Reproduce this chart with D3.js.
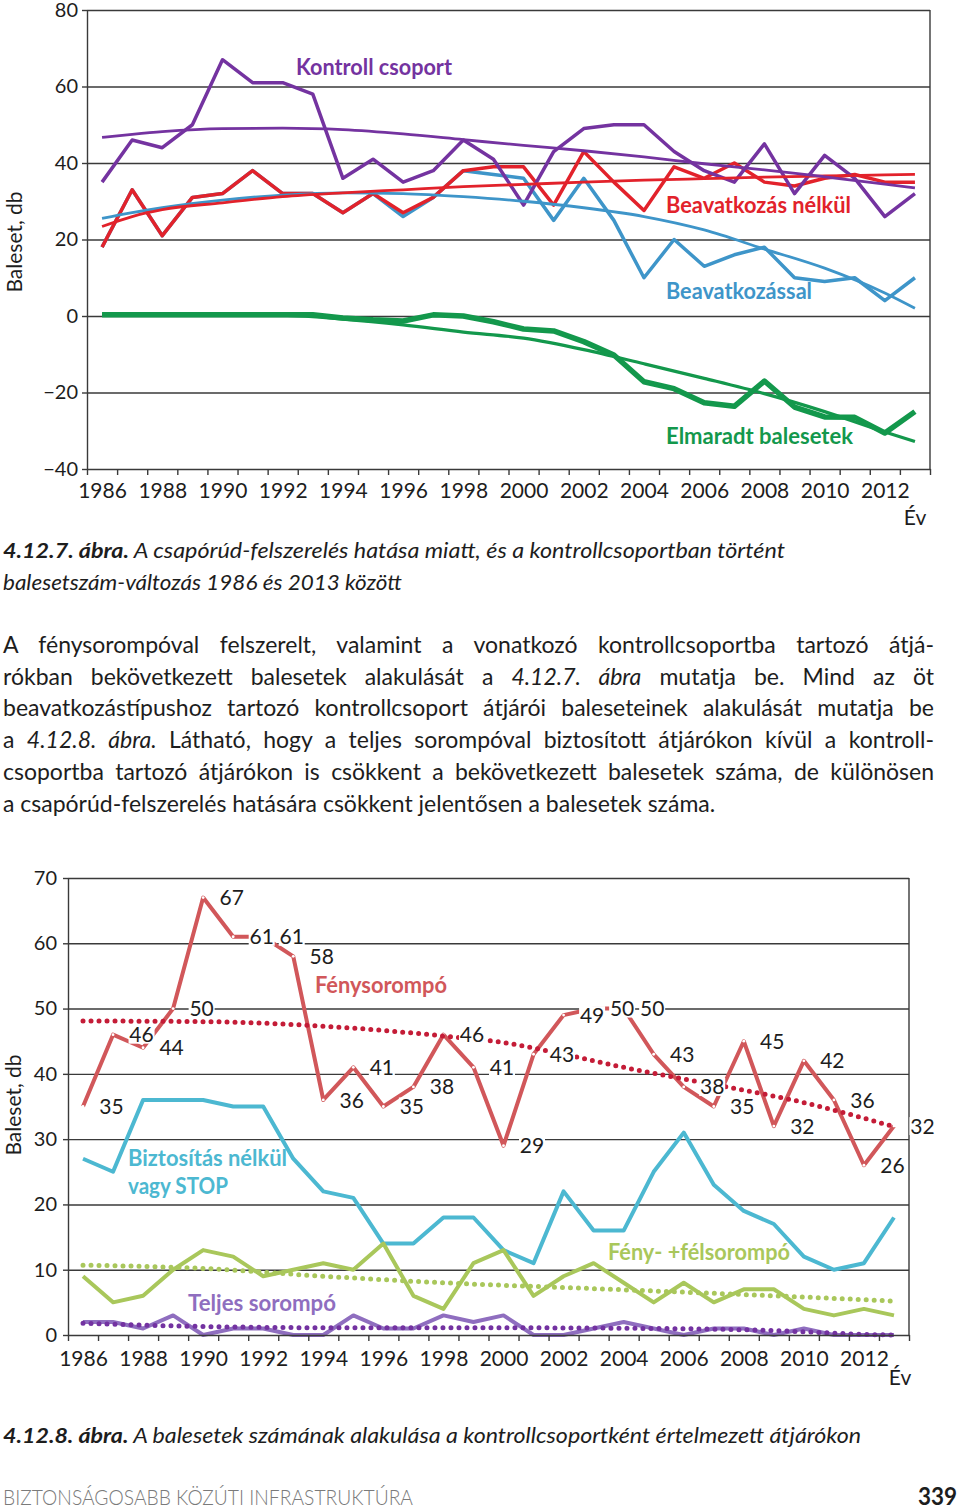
<!DOCTYPE html>
<html lang="hu">
<head>
<meta charset="utf-8">
<script src="https://cdn.jsdelivr.net/npm/d3@7/dist/d3.min.js"></script>
<style>
  body { margin: 0; background: #fff; }
  svg text { font-family: Lato, "Open Sans", sans-serif; white-space: pre; }
</style>
</head>
<body>
<div id="container"></div>
<script>
// Évek (kategóriák) és tengelyfeliratok
const years = [1986,1987,1988,1989,1990,1991,1992,1993,1994,1995,1996,1997,1998,1999,
               2000,2001,2002,2003,2004,2005,2006,2007,2008,2009,2010,2011,2012,2013];
const yearLabels = [1986,1988,1990,1992,1994,1996,1998,2000,2002,2004,2006,2008,2010,2012];

// 4.12.7. ábra
const topTicks = [80,60,40,20,0,-20,-40];
const kontroll = [35,46,44,50,67,61,61,58,36,41,35,38,46,41,29,43,49,50,50,43,38,35,45,32,42,36,26,32];
const nelkul = [18,33,21,31,32,38,32,32,27,32,27,31,38,39,39,29,43,35,27.6,39,36,40,35,34,36,37,35,35];
const beavatkozassal = [18,33,21,31,32,38,32,32,27,32,26,31,38,37,36,25,36,25,10,20,13,16,18,10,9,10,4,10];
const elmaradt = [0.3,0.3,0.3,0.3,0.3,0.3,0.3,0.3,-0.5,-1,-1.3,0.3,0,-1.5,-3.4,-3.9,-6.7,-10.2,-17.2,-19,-22.7,-23.6,-17,-23.8,-26.4,-26.5,-30.6,-25];
const trendYears = [1986,1987,1988,1990,1992,1994,1996,1998,2000,2002,2004,2006,2008,2010,2012,2013];
const kontrollTrend = [46.7,47.5,48.2,49.0,49.1,48.7,47.6,46.1,44.6,43.2,41.6,39.8,38.2,36.4,34.5,33.5];
const nelkulTrend = [23.4,26.0,27.8,29.6,31.2,32.2,33.0,33.8,34.4,35.0,35.5,35.9,36.3,36.6,36.9,37.0];
const beavTrend = [25.5,27.0,28.3,30.3,31.6,32.2,32.0,31.2,30.0,28.3,26.0,22.5,17.5,12.5,6.0,2.0];
const elmaradtTrend = [0.3,0.35,0.4,0.4,0.2,-0.8,-2.3,-4.2,-5.8,-8.8,-12.5,-16.3,-20.3,-25.0,-30.3,-32.8];

// 4.12.8. ábra
const botTicks = [70,60,50,40,30,20,10,0];
const fenysorompo = [35,46,44,50,67,61,61,58,36,41,35,38,46,41,29,43,49,50,50,43,38,35,45,32,42,36,26,32];
const biztositasNelkul = [27,25,36,36,36,35,35,27,22,21,14,14,18,18,13,11,22,16,16,25,31,23,19,17,12,10,11,18];
const felsorompo = [9,5,6,10,13,12,9,10,11,10,14,6,4,11,13,6,9,11,8,5,8,5,7,7,4,3,4,3];
const teljes = [2,2,1,3,0,1,1,0,0,3,1,1,3,2,3,0,0,1,2,1,0,1,1,0,1,0,0,0];
const fenyTrendYears = [1986,1990,1994,1998,2000,2002,2004,2006,2008,2010,2012,2013];
const fenyTrend = [48.1,48.0,47.3,45.8,44.8,43.0,41.0,39.2,37.5,35.6,33.2,31.9];
const felTrendYears = [1986,1990,1994,1998,2003,2008,2013];
const felTrend = [10.7,10.2,9.0,8.0,7.1,6.2,5.2];
const teljesTrendYears = [1986,1990,1995,2000,2005,2008,2010,2012,2013];
const teljesTrend = [1.8,1.3,1.1,1.1,1.0,0.8,0.5,0.1,0];

const halfYears = d3.range(1985.5, 2014, 1);
const ink = "#1d1d1d", gridCol = "#3a3a3a";

const svg = d3.select("#container").append("svg")
  .attr("width", 960).attr("height", 1511).style("display", "block");
svg.append("rect").attr("width", 960).attr("height", 1511).attr("fill", "#fff");

function addPath(g, data, gen, color, width, dash) {
  const p = g.append("path").datum(data).attr("d", gen).attr("fill", "none")
    .attr("stroke", color).attr("stroke-width", width)
    .attr("stroke-linejoin", "round").attr("stroke-linecap", dash ? "round" : "butt");
  if (dash) p.attr("stroke-dasharray", dash);
  return p;
}
function styleAxis(g, size) {
  g.selectAll("path.domain").attr("stroke", gridCol).attr("stroke-width", 1.4);
  g.selectAll(".tick line").attr("stroke", gridCol).attr("stroke-width", 1.4);
  g.selectAll("text").attr("font-size", size).attr("fill", ink);
}
function addText(parent, x, y, parts, o) {
  const t = parent.append("text").attr("x", x).attr("y", y)
    .attr("font-size", o.size).attr("fill", o.color || ink)
    .attr("font-weight", o.bold ? "bold" : null)
    .attr("text-anchor", o.anchor || null);
  parts.forEach(p => t.append("tspan").text(p.t)
    .attr("font-style", p.i ? "italic" : null)
    .attr("font-weight", p.b ? "bold" : null));
  if (o.width) t.attr("textLength", o.width).attr("lengthAdjust", "spacingAndGlyphs");
  return t;
}

// Egy ábra keret, rács és tengelyek
function frame(g, x, y, ticks, o) {
  const [x0, x1] = x.range();
  const [yb, yt] = y.range();
  g.append("g").attr("transform", `translate(${x0},0)`)
    .call(d3.axisLeft(y).tickValues(ticks.filter(d => d !== y.domain()[0])).tickSize(-(x1 - x0)).tickFormat(""))
    .call(a => a.select(".domain").remove())
    .call(a => styleAxis(a, 0));
  g.append("line").attr("x1", x1).attr("x2", x1).attr("y1", yt).attr("y2", yb)
    .attr("stroke", gridCol).attr("stroke-width", 1.4);
  o.after = g.append("g");
  return g;
}
function axes(g, x, y, ticks, o) {
  const [x0] = x.range();
  const [yb] = y.range();
  g.append("g").attr("transform", `translate(${x0},0)`)
    .call(d3.axisLeft(y).tickValues(ticks).tickSize(5).tickSizeOuter(0).tickPadding(o.yPad))
    .call(a => styleAxis(a, 20));
  g.append("g").attr("transform", `translate(0,${yb})`)
    .call(d3.axisBottom(x).tickValues(halfYears).tickSize(6).tickSizeOuter(0).tickFormat(""))
    .call(a => styleAxis(a, 0));
  g.append("g").attr("transform", `translate(0,${yb})`)
    .call(d3.axisBottom(x).tickValues(yearLabels).tickSize(0).tickPadding(o.xPad).tickFormat(d3.format("d")))
    .call(a => a.select(".domain").remove())
    .call(a => styleAxis(a, 21));
  addText(g, o.evX, o.evY, [{t: "Év"}], {size: 21, anchor: "middle"});
  g.append("text").attr("transform", `translate(${o.labX},${o.labY}) rotate(-90)`)
    .attr("text-anchor", "middle").attr("font-size", 21).attr("fill", ink).text("Baleset, db");
}

// ---------- 4.12.7. ábra ----------
const xTop = d3.scaleLinear().domain([1985.5, 2013.5]).range([87, 930]);
const yTop = d3.scaleLinear().domain([-40, 80]).range([469, 10]);
const gA = svg.append("g");
frame(gA, xTop, yTop, topTicks, {});

const lineTop = d3.line().x((d, i) => xTop(years[i])).y(d => yTop(d));
const trendTop = d3.line().x((d, i) => xTop(trendYears[i])).y(d => yTop(d)).curve(d3.curveMonotoneX);

const cPurple = "#7433a0", cRed = "#e2222b", cBlue = "#3e95c9", cGreen = "#13984c";
addPath(gA, beavatkozassal, lineTop, cBlue, 3.5);
addPath(gA, nelkul, lineTop, cRed, 3.5);
addPath(gA, kontroll, lineTop, cPurple, 3.5);
addPath(gA, beavTrend, trendTop, cBlue, 2.8);
addPath(gA, nelkulTrend, trendTop, cRed, 2.8);
addPath(gA, kontrollTrend, trendTop, cPurple, 2.8);
addPath(gA, elmaradtTrend, trendTop, cGreen, 3.2);
addPath(gA, elmaradt, lineTop, cGreen, 5.5);
axes(gA, xTop, yTop, topTicks, {yPad: 4, xPad: 14, evX: 915, evY: 525, labX: 22, labY: 242});

addText(gA, 296, 75, [{t: "Kontroll csoport"}], {size: 22, bold: true, color: cPurple, width: 156});
addText(gA, 666, 213, [{t: "Beavatkozás nélkül"}], {size: 22, bold: true, color: cRed, width: 185});
addText(gA, 666, 299, [{t: "Beavatkozással"}], {size: 22, bold: true, color: cBlue, width: 146});
addText(gA, 666, 444, [{t: "Elmaradt balesetek"}], {size: 22, bold: true, color: cGreen, width: 187});

// ---------- szöveg ----------
const gT = svg.append("g");
addText(gT, 3, 558, [{t: "4.12.7. ábra.", b: true, i: true},
  {t: " A csapórúd-felszerelés hatása miatt, és a kontrollcsoportban történt", i: true}], {size: 21, width: 782});
addText(gT, 3, 590, [{t: "balesetszám-változás 1986 és 2013 között", i: true}], {size: 21, width: 399});

const paraLines = [
  {parts: [{t: "A fénysorompóval felszerelt, valamint a vonatkozó kontrollcsoportba tartozó átjá-"}], justify: true},
  {parts: [{t: "rókban bekövetkezett balesetek alakulását a "}, {t: "4.12.7. ábra", i: true}, {t: " mutatja be. Mind az öt"}], justify: true},
  {parts: [{t: "beavatkozástípushoz tartozó kontrollcsoport átjárói baleseteinek alakulását mutatja be"}], justify: true},
  {parts: [{t: "a "}, {t: "4.12.8. ábra.", i: true}, {t: " Látható, hogy a teljes sorompóval biztosított átjárókon kívül a kontroll-"}], justify: true},
  {parts: [{t: "csoportba tartozó átjárókon is csökkent a bekövetkezett balesetek száma, de különösen"}], justify: true},
  {parts: [{t: "a csapórúd-felszerelés hatására csökkent jelentősen a balesetek száma."}], justify: false}
];
// betűméret a záró (nem sorkizárt) sor szélességéhez igazítva
const probe = addText(gT, 0, -50, paraLines[5].parts, {size: 21});
const paraSize = Math.min(23, 21 * 754 / probe.node().getComputedTextLength());
probe.remove();
paraLines.forEach((ln, i) => {
  const t = addText(gT, 3, 653 + i * 31.7, ln.parts, {size: paraSize});
  if (ln.justify) {
    const nat = t.node().getComputedTextLength();
    const spaces = ln.parts.map(p => p.t).join("").split(" ").length - 1;
    t.attr("word-spacing", (931 - nat) / spaces);
  }
});

// ---------- 4.12.8. ábra ----------
const xBot = d3.scaleLinear().domain([1985.5, 2013.5]).range([68, 909]);
const yBot = d3.scaleLinear().domain([0, 70]).range([1335, 878]);
const gB = svg.append("g");
frame(gB, xBot, yBot, botTicks, {});

const lineBot = d3.line().x((d, i) => xBot(years[i])).y(d => yBot(d));
const trendBot = ys => d3.line().x((d, i) => xBot(ys[i])).y(d => yBot(d)).curve(d3.curveMonotoneX);

const bRed = "#d1575a", bRedDot = "#c41c37", bCyan = "#4cb8d1", bGreen = "#a9c75b", bPurple = "#8f6ebf", bPurpleDot = "#7332a1";
addPath(gB, biztositasNelkul, lineBot, bCyan, 4);
addPath(gB, felsorompo, lineBot, bGreen, 4);
addPath(gB, teljes, lineBot, bPurple, 4);
addPath(gB, felTrend, trendBot(felTrendYears), bGreen, 5, "0,8");
addPath(gB, teljesTrend, trendBot(teljesTrendYears), bPurpleDot, 5, "0,8");
addPath(gB, fenysorompo, lineBot, bRed, 4);
gB.append("g").selectAll("circle").data(fenysorompo).join("circle")
  .attr("cx", (d, i) => xBot(years[i])).attr("cy", d => yBot(d)).attr("r", 1.4).attr("fill", "#fff");
addPath(gB, fenyTrend, trendBot(fenyTrendYears), bRedDot, 5, "0,8");

// adatfeliratok
const lab = gB.append("g").selectAll("g").data(fenysorompo).join("g")
  .attr("transform", (d, i) => `translate(${xBot(years[i]) + 28.5},${yBot(d)})`);
lab.append("rect").attr("x", -13).attr("y", -9).attr("width", 26).attr("height", 18).attr("fill", "#fff");
lab.append("text").attr("text-anchor", "middle").attr("dy", "0.36em")
  .attr("font-size", 21).attr("fill", ink).text(d => d);

axes(gB, xBot, yBot, botTicks, {yPad: 6, xPad: 16, evX: 900, evY: 1385, labX: 21, labY: 1105});

addText(gB, 315, 993, [{t: "Fénysorompó"}], {size: 22, bold: true, color: bRed, width: 132});
addText(gB, 128, 1166, [{t: "Biztosítás nélkül"}], {size: 22, bold: true, color: bCyan, width: 159});
addText(gB, 128, 1194, [{t: "vagy STOP"}], {size: 22, bold: true, color: bCyan, width: 100});
addText(gB, 608, 1260, [{t: "Fény- +félsorompó"}], {size: 22, bold: true, color: bGreen, width: 182});
addText(gB, 188, 1311, [{t: "Teljes sorompó"}], {size: 22, bold: true, color: bPurple, width: 148});

// ---------- ábraaláírás és lábléc ----------
addText(svg, 3, 1443, [{t: "4.12.8. ábra.", b: true, i: true},
  {t: " A balesetek számának alakulása a kontrollcsoportként értelmezett átjárókon", i: true}], {size: 21, width: 858});
addText(svg, 3, 1505, [{t: "BIZTONSÁGOSABB KÖZÚTI INFRASTRUKTÚRA"}], {size: 22, color: "#7a7a7a", width: 410})
  .attr("font-weight", 300);
addText(svg, 957, 1505, [{t: "339"}], {size: 25, bold: true, anchor: "end", width: 39});
</script>
</body>
</html>
